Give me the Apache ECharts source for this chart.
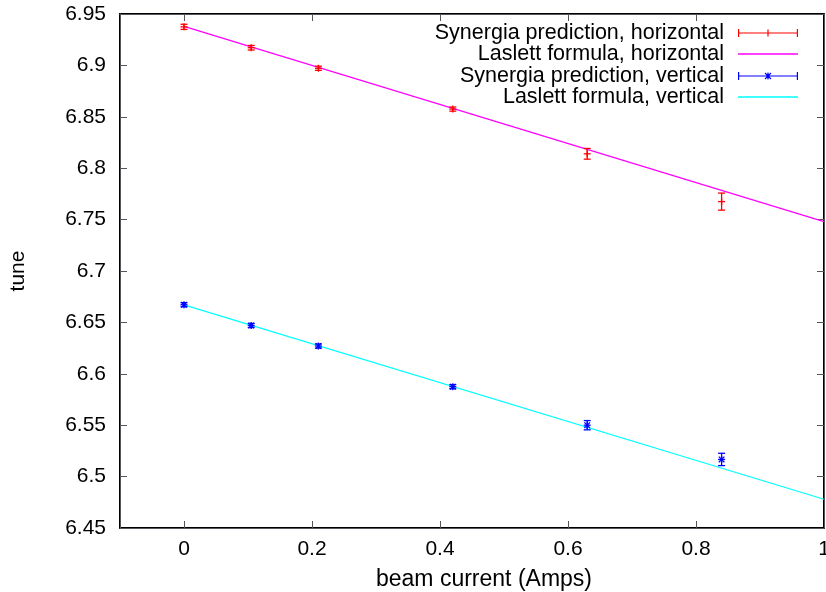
<!DOCTYPE html>
<html>
<head>
<meta charset="utf-8">
<script src="https://cdn.jsdelivr.net/npm/echarts@6/dist/echarts.min.js"></script>
<style>
html,body{margin:0;padding:0;background:#fff;}
#chart{width:826px;height:592px;}
</style>
</head>
<body>
<div id="chart"></div>
<script>
// ---- data ----
const current = [0, 0.105, 0.21, 0.42, 0.63, 0.84];
const horizTune = [6.9375, 6.9172, 6.8972, 6.8575, 6.8140, 6.7675];
const horizErr = [0.0025, 0.0022, 0.002, 0.002, 0.0052, 0.0083];
const vertTune = [6.6672, 6.6470, 6.6270, 6.5875, 6.5500, 6.5167];
const vertErr = [0.002, 0.002, 0.002, 0.002, 0.0045, 0.006];
const laslettX = [0, 1];
const laslettH = [6.938, 6.748];
const laslettV = [6.667, 6.478];
const xTicks = [0, 0.2, 0.4, 0.6, 0.8, 1];
const seriesNames = [
  'Synergia prediction, horizontal',
  'Laslett formula, horizontal',
  'Synergia prediction, vertical',
  'Laslett formula, vertical'
];
const xTitle = 'beam current (Amps)';
const yTitle = 'tune';

const FONT = '"Liberation Sans", Arial, Helvetica, sans-serif';
const RED = '#ff0000', MAG = '#ff00ff', BLUE = '#0000ff', CYAN = '#00ffff';
const INK = '#000000';

function makeErr(tune, err) {
  return current.map((x, i) => [x, tune[i], err[i]]);
}
function makeLine(ys) {
  return laslettX.map((x, i) => [x, ys[i]]);
}

function errRender(kind, color) {
  return function (params, api) {
    const x = api.value(0), y = api.value(1), e = api.value(2);
    const p = api.coord([x, y]);
    const t = api.coord([x, y + e]);
    const b = api.coord([x, y - e]);
    const cap = 3.5, m = 3.5;
    const st = { stroke: color, lineWidth: 1.3 };
    const ch = [
      { type: 'line', shape: { x1: p[0], y1: t[1], x2: p[0], y2: b[1] }, style: st },
      { type: 'line', shape: { x1: p[0] - cap, y1: t[1], x2: p[0] + cap, y2: t[1] }, style: st },
      { type: 'line', shape: { x1: p[0] - cap, y1: b[1], x2: p[0] + cap, y2: b[1] }, style: st },
      { type: 'line', shape: { x1: p[0] - m, y1: p[1], x2: p[0] + m, y2: p[1] }, style: st },
      { type: 'line', shape: { x1: p[0], y1: p[1] - m, x2: p[0], y2: p[1] + m }, style: st }
    ];
    if (kind === 'star') {
      const d = 2.8;
      ch.push({ type: 'line', shape: { x1: p[0] - d, y1: p[1] - d, x2: p[0] + d, y2: p[1] + d }, style: st });
      ch.push({ type: 'line', shape: { x1: p[0] - d, y1: p[1] + d, x2: p[0] + d, y2: p[1] - d }, style: st });
    }
    return { type: 'group', children: ch };
  };
}

const plusIcon = 'path://M0,0h1.2v8h-1.2z M58.8,0h1.2v8h-1.2z M0,3.4h60v1.2h-60z M29.4,0.5h1.2v7h-1.2z';
const starIcon = 'path://M0,0h1.2v8h-1.2z M58.8,0h1.2v8h-1.2z M0,3.4h60v1.2h-60z M29.4,0.5h1.2v7h-1.2z ' +
  'M26.6,1.4L27.4,0.6L33.4,6.6L32.6,7.4Z M32.6,0.6L33.4,1.4L27.4,7.4L26.6,6.6Z';

const rowCenters = [32.5, 53.5, 75.5, 96.5];
const legendIcons = [plusIcon, 'rect', starIcon, 'rect'];
const legendColors = [RED, MAG, BLUE, CYAN];
const legends = seriesNames.map((n, i) => ({
  show: true,
  selectedMode: false,
  orient: 'vertical',
  align: 'right',
  right: 28,
  top: rowCenters[i] - 10.5,
  padding: 0,
  itemWidth: 60,
  itemHeight: legendIcons[i] === 'rect' ? 1.5 : 8,
  textStyle: { fontFamily: FONT, fontSize: 21.5, color: INK, lineHeight: 21, padding: [0, 9, 0, 0] },
  data: [{ name: n, icon: legendIcons[i], itemStyle: { color: legendColors[i] } }]
}));

const tickFmt = v => String(+(+v).toFixed(2));

// axis lines and ticks left at library defaults (explicit tick colours hid the ticks);
// the black frame comes from the grid border underneath
function axLine() { return { show: true, onZero: false }; }
function axTick() { return { show: true, inside: true, length: 7 }; }

const option = {
  animation: false,
  backgroundColor: '#fff',
  legend: legends,
  grid: {
    left: 120, right: 2, top: 14, bottom: 64,
    show: true, borderColor: INK, borderWidth: 2, backgroundColor: 'transparent',
    containLabel: false, outerBoundsMode: 'none'
  },
  xAxis: [
    {
      type: 'value', min: -0.1, max: 1, position: 'bottom',
      axisLine: axLine(),
      splitLine: { show: false },
      axisTick: axTick(),
      axisLabel: { show: true, customValues: xTicks, formatter: tickFmt, margin: 11,
        fontFamily: FONT, fontSize: 21, color: INK },
      name: xTitle, nameLocation: 'middle', nameGap: 40,
      nameTextStyle: { fontFamily: FONT, fontSize: 23, color: INK, padding: [0, 0, 0, 24] }
    },
    {
      type: 'value', min: -0.1, max: 1, position: 'top',
      axisLine: axLine(),
      splitLine: { show: false },
      axisTick: axTick(),
      axisLabel: { show: false }
    }
  ],
  yAxis: [
    {
      type: 'value', min: 6.45, max: 6.95, interval: 0.05, position: 'left',
      axisLine: axLine(),
      splitLine: { show: false },
      axisTick: axTick(),
      axisLabel: { formatter: tickFmt, margin: 14, fontFamily: FONT, fontSize: 21, color: INK },
      name: yTitle, nameLocation: 'middle', nameRotate: 90, nameGap: 91,
      nameTextStyle: { fontFamily: FONT, fontSize: 21, color: INK }
    },
    {
      type: 'value', min: 6.45, max: 6.95, interval: 0.05, position: 'right',
      axisLine: axLine(),
      splitLine: { show: false },
      axisTick: axTick(),
      axisLabel: { show: false }
    }
  ],
  series: [
    {
      name: seriesNames[0], type: 'custom', xAxisIndex: 0, yAxisIndex: 0,
      itemStyle: { color: RED }, clip: true,
      renderItem: errRender('plus', RED), data: makeErr(horizTune, horizErr), z: 5
    },
    {
      name: seriesNames[1], type: 'line', xAxisIndex: 0, yAxisIndex: 0,
      showSymbol: false, symbol: 'none', clip: true,
      lineStyle: { color: MAG, width: 1.2 }, itemStyle: { color: MAG },
      data: makeLine(laslettH), z: 3
    },
    {
      name: seriesNames[2], type: 'custom', xAxisIndex: 0, yAxisIndex: 0,
      itemStyle: { color: BLUE }, clip: true,
      renderItem: errRender('star', BLUE), data: makeErr(vertTune, vertErr), z: 5
    },
    {
      name: seriesNames[3], type: 'line', xAxisIndex: 0, yAxisIndex: 0,
      showSymbol: false, symbol: 'none', clip: true,
      lineStyle: { color: CYAN, width: 1.2 }, itemStyle: { color: CYAN },
      data: makeLine(laslettV), z: 3
    }
  ]
};

const chart = echarts.init(document.getElementById('chart'), null, { renderer: 'canvas' });
chart.setOption(option);
</script>
</body>
</html>
